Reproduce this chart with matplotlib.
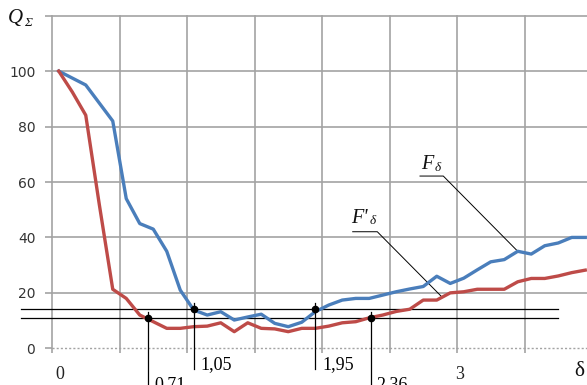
import numpy as np
import matplotlib
matplotlib.use("Agg")
import matplotlib.pyplot as plt

# ---------------- data ----------------
delta = np.round(np.arange(40) * 0.1 + 0.05, 2)
F_delta = [100, 97.5, 95, 88.5, 82, 54, 45, 43, 35, 21,
           13.8, 12, 13.2, 10.2, 11.3, 12.3, 9, 7.8, 9.4, 13.2,
           15.6, 17.4, 18, 18, 19.2, 20.4, 21.4, 22.3, 26, 23.4,
           25.3, 28.3, 31.2, 32, 35, 34, 37, 38, 40, 40]
F_prime_delta = [100, 92.5, 84.1, 52, 21.3, 18, 12, 9.6, 7.2, 7.2,
                 7.8, 8, 9.2, 6, 9.2, 7.2, 7, 6, 7.2, 7.2,
                 8, 9.2, 9.6, 11, 12, 13.3, 14.1, 17.4, 17.4, 20,
                 20.4, 21.3, 21.3, 21.3, 24, 25.2, 25.2, 26.1, 27.3, 28.2]
y_ticks = [0, 20, 40, 60, 80, 100, 120]
y_tick_labels = ['0', '20', '40', '60', '80', '100', '']
x_grid = [0, 0.5, 1.0, 1.5, 2.0, 2.5, 3.0, 3.5]
x_tick_labels = ['0', '3']
x_tick_label_pos = [0.06, 3.02]
thr_upper = 14.0
thr_lower = 10.8
marks_upper = [1.05, 1.95]   # on upper threshold (F_delta)
marks_lower = [0.71, 2.36]   # on lower threshold (F'_delta)

# ---------------- figure ----------------
W, H = 587, 385
fig = plt.figure(figsize=(W / 100, H / 100), dpi=100)
x0_px, y0_px, ytop_px = 52, 348.3, 15.7
ax = fig.add_axes([x0_px / W, (H - y0_px) / H, 1 - x0_px / W, (y0_px - ytop_px) / H])
ax.set_xlim(0, (W - x0_px) / 135)
ax.set_ylim(0, 120)
for s in ax.spines.values():
    s.set_visible(False)

grid_c = '#a3a3a3'
for y in y_ticks[1:]:
    ax.axhline(y, color=grid_c, lw=1.2, zorder=0.5, clip_on=False)
for x in x_grid:
    ax.axvline(x, color=grid_c, lw=1.2, zorder=0.5, clip_on=False)
ax.axhline(0, color=grid_c, lw=1.0, ls=(0, (1.5, 1.5)), zorder=0.5, clip_on=False)

ax.set_yticks(y_ticks)
ax.set_yticklabels(y_tick_labels)
ax.set_xticks(x_grid)
ax.set_xticklabels([])
ax.tick_params(axis='y', length=5, width=1.2, color=grid_c, pad=7,
               labelsize=10, labelcolor='#333333')
ax.tick_params(axis='x', length=3.3, width=1.2, color=grid_c)
for lab in ax.get_yticklabels():
    lab.set_fontfamily('DejaVu Sans')

serif = 'Liberation Serif'
for lbl, pos in zip(x_tick_labels, x_tick_label_pos):
    ax.text(pos, -10.9, lbl, ha='center', va='baseline', fontsize=13,
            color='#222222', family=serif, clip_on=False)

# threshold lines
xl0, xl1 = (20.7 - x0_px) / 135, (558 - x0_px) / 135
for t in (thr_upper, thr_lower):
    ax.plot([xl0, xl1], [t, t], color='black', lw=0.9, zorder=2, clip_on=False)

# curves
blue = '#4A7EBB'
red = '#BE4B48'
ax.plot(delta, F_delta, color=blue, lw=2.4, zorder=3, solid_joinstyle='round')
ax.plot(delta, F_prime_delta, color=red, lw=2.4, zorder=3.1, solid_joinstyle='round')

# markers with vertical drop lines and labels
for xv in marks_upper:
    ax.plot([xv, xv], [thr_upper + 2.2, -7.3], color='black', lw=0.9, zorder=4, clip_on=False)
    ax.plot([xv], [thr_upper], 'o', color='black', ms=4.5, zorder=5, clip_on=False)
    ax.text(xv + 0.05, -7.5, f"{xv:.2f}".replace('.', ','), ha='left', va='baseline',
            fontsize=13, family=serif, clip_on=False)
for xv in marks_lower:
    ax.plot([xv, xv], [thr_lower + 2.2, -14], color='black', lw=0.9, zorder=4, clip_on=False)
    ax.plot([xv], [thr_lower], 'o', color='black', ms=4.5, zorder=5, clip_on=False)
    ax.text(xv + 0.045, -14.8, f"{xv:.2f}".replace('.', ','), ha='left', va='baseline',
            fontsize=13, family=serif, clip_on=False)

# leader lines + labels
def px2d(px, py):
    return (px - x0_px) / 135, (y0_px - py) / 2.7725

# F'_delta leader
ex = 2.89
ey = float(np.interp(ex, delta, F_prime_delta))
a = px2d(352.7, 231.7); b = px2d(377.3, 231.7)
ax.plot([a[0], b[0], ex], [a[1], b[1], ey], color='black', lw=0.7, zorder=2.5)
t = px2d(351.5, 223.3)
ax.text(t[0], t[1], "F'", ha='left', va='baseline', fontsize=14.5, family=serif,
        style='italic', color='#111111')
t = px2d(369.5, 224.3)
ax.text(t[0], t[1], "δ", ha='left', va='baseline', fontsize=9.5, family=serif,
        style='italic', color='#111111')

# F_delta leader
k = 34
a = px2d(420, 176); b = px2d(443.3, 176)
ax.plot([a[0], b[0], delta[k]], [a[1], b[1], F_delta[k]], color='black', lw=0.7, zorder=2.5)
t = px2d(421.5, 169.3)
ax.text(t[0], t[1], "F", ha='left', va='baseline', fontsize=14.5, family=serif,
        style='italic', color='#111111')
t = px2d(434.5, 170.5)
ax.text(t[0], t[1], "δ", ha='left', va='baseline', fontsize=9.5, family=serif,
        style='italic', color='#111111')

# axis titles
fig.text(8 / W, 1 - 23 / H, "Q", ha='left', va='baseline', fontsize=15, family=serif,
         style='italic', color='#111111')
fig.text(24.5 / W, 1 - 26.5 / H, "Σ", ha='left', va='baseline', fontsize=9.5, family=serif,
         style='italic', color='#111111')
fig.text(579 / W, 1 - 375.5 / H, "δ", ha='center', va='baseline', fontsize=15.5,
         family=serif, color='#111111')

fig.savefig("out.png", dpi=100)
